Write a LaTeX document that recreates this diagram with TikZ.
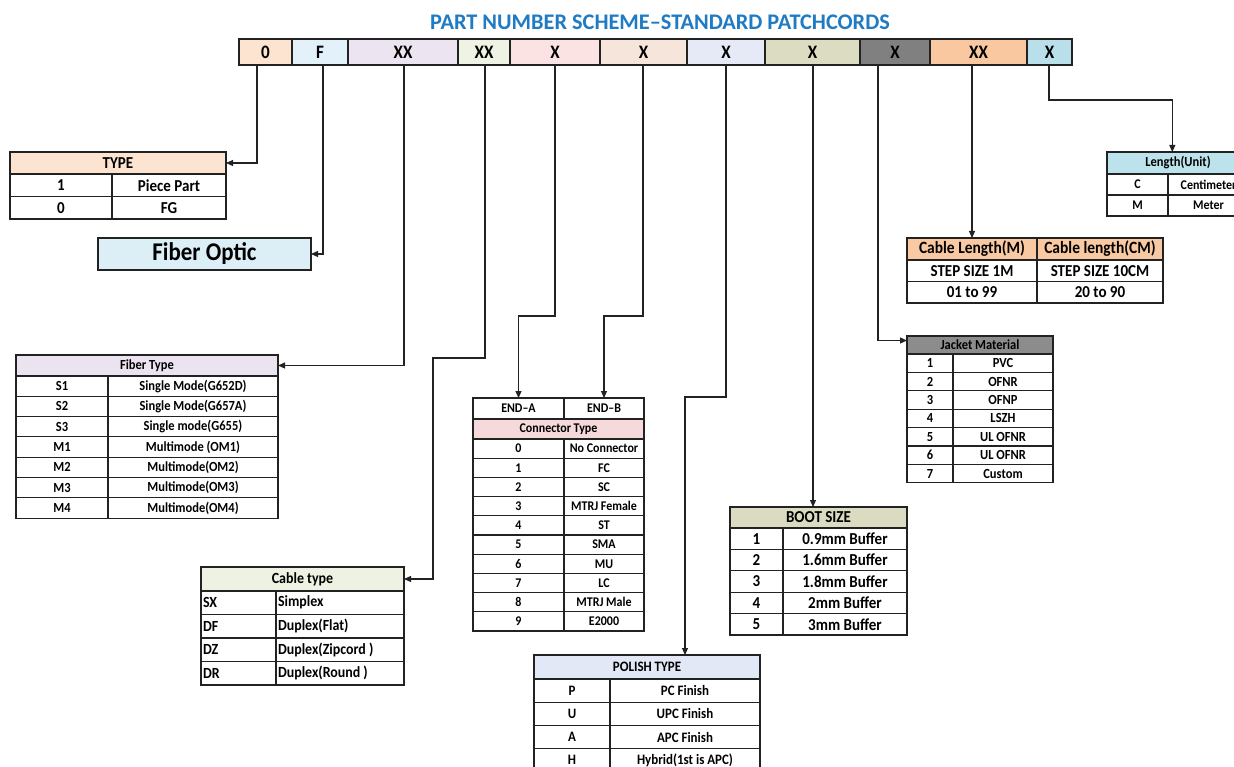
\documentclass[tikz,border=0pt]{standalone}
\usepackage{fontspec}
\setmainfont{Carlito}[FakeStretch=0.9]
\newfontfamily\titlefont{Carlito}
\usetikzlibrary{arrows.meta,calc}
\definecolor{lineC}{HTML}{222222}
\definecolor{titleC}{HTML}{1E7BC4}
\definecolor{cA}{HTML}{FCE4D0}
\definecolor{cB}{HTML}{E3F1FB}
\definecolor{cC}{HTML}{ECE4F0}
\definecolor{cD}{HTML}{EEF3E3}
\definecolor{cE}{HTML}{FBE3E3}
\definecolor{cF}{HTML}{F6E5DA}
\definecolor{cG}{HTML}{E6EAF7}
\definecolor{cH}{HTML}{DCDCC2}
\definecolor{cI}{HTML}{808080}
\definecolor{cJ}{HTML}{F9C8A0}
\definecolor{cK}{HTML}{B9E0EA}
\definecolor{foBlue}{HTML}{DCEEF6}
\definecolor{ftH}{HTML}{EBE3F0}
\definecolor{ctH}{HTML}{EDF2E2}
\definecolor{conH}{HTML}{F6D9DA}
\definecolor{polH}{HTML}{E2E8F6}
\definecolor{bootH}{HTML}{DADBC0}
\definecolor{jackH}{HTML}{8C8C8C}
\definecolor{clH}{HTML}{F8C9A2}
\definecolor{luH}{HTML}{BCE2EC}
\newcommand\fsz[1]{\fontsize{#1}{#1}\selectfont\bfseries}
\tikzset{
  cellbox/.style={draw=lineC, line width=1.1pt, inner sep=0pt, outer sep=0pt, rectangle, text=black},
  conn/.style={draw=lineC, line width=1.1pt, -{Triangle[length=7pt,width=6pt]}},
}
% name, x1, y1, x2, y2, fill, options, text
\newcommand\cell[8]{\node[cellbox, fill=#6, minimum width={#4pt-#2pt}, minimum height={#5pt-#3pt}, #7] (#1) at ({(#2+#4)/2},{(#3+#5)/2}) {#8};}
\newcommand\lcell[8]{\node[cellbox, fill=#6, minimum width={#4pt-#2pt}, minimum height={#5pt-#3pt}, #7] (#1) at ({(#2+#4)/2},{(#3+#5)/2}) {\hbox to \dimexpr #4pt-#2pt\relax{\hskip2pt #8\hfil}};}
% prefix, x1, xm, x2, ytop, rowh, list, options
\newcommand\tablebody[8]{%
  \foreach \a/\b [count=\i] in {#7} {
    \pgfmathsetmacro\yA{#5+(\i-1)*#6}
    \pgfmathsetmacro\yB{#5+\i*#6}
    \cell{#1-\i-a}{#2}{\yA}{#3}{\yB}{white}{#8}{\a}
    \cell{#1-\i-b}{#3}{\yA}{#4}{\yB}{white}{#8}{\b}
  }}
\newcommand\ltablebody[8]{%
  \foreach \a/\b [count=\i] in {#7} {
    \pgfmathsetmacro\yA{#5+(\i-1)*#6}
    \pgfmathsetmacro\yB{#5+\i*#6}
    \lcell{#1-\i-a}{#2}{\yA}{#3}{\yB}{white}{#8}{\a}
    \lcell{#1-\i-b}{#3}{\yA}{#4}{\yB}{white}{#8}{\b}
  }}
\begin{document}
\begin{tikzpicture}[x=1pt,y=-1pt]
\useasboundingbox (0,0) rectangle (1234,767);
\clip (0,0) rectangle (1234,767);
\fill[white] (0,0) rectangle (1234,767);
% title
\node[font=\titlefont\fsz{22.3}, text=titleC] (title) at (660,22) {PART NUMBER SCHEME–STANDARD PATCHCORDS};
% header bar
\foreach \xa/\xb/\t/\c [count=\i] in {239/292/0/cA, 292/348/F/cB, 348/458/XX/cC, 458/510/XX/cD, 510/600/X/cE, 600/687/X/cF, 687/765/X/cG, 765/860/X/cH, 860/930/X/cI, 930/1027/XX/cJ, 1027/1072/X/cK} {
  \cell{h\i}{\xa}{39}{\xb}{65}{\c}{font=\fsz{19}}{\t}
}
% TYPE
\cell{typeh}{10}{152}{226}{174}{cA}{font=\fsz{16.7}}{TYPE}
\tablebody{ty}{10}{112}{226}{174}{22.5}{1/Piece Part,0/FG}{font=\fsz{16.7}}
% Fiber optic
\cell{fo}{98}{238}{311}{270}{foBlue}{font=\fsz{25.5}}{Fiber Optic}
% Fiber type
\cell{fth}{16}{355}{278}{376}{ftH}{font=\fsz{13.9}}{Fiber Type}
\tablebody{ft}{16}{108}{278}{376}{20.3}{S1/Single Mode(G652D),S2/Single Mode(G657A),S3/Single mode(G655),M1/Multimode (OM1),M2/Multimode(OM2),M3/Multimode(OM3),M4/Multimode(OM4)}{font=\fsz{13.9}}
% Cable type
\cell{cth}{201}{567}{404}{591}{ctH}{font=\fsz{15.5}}{Cable type}
\ltablebody{ct}{201}{276}{404}{591}{23.5}{SX/Simplex,DF/Duplex(Flat),DZ/Duplex(Zipcord ),DR/Duplex(Round )}{font=\fsz{15.5}}
% Connector
\cell{endA}{473}{398}{564}{419}{white}{font=\fsz{13.3}}{END–A}
\cell{endB}{564}{398}{644}{419}{white}{font=\fsz{13.3}}{END–B}
\cell{conh}{473}{419}{644}{439}{conH}{font=\fsz{13.3}}{Connector Type}
\tablebody{cn}{473}{564}{644}{439}{19.2}{0/No Connector,1/FC,2/SC,3/MTRJ Female,4/ST,5/SMA,6/MU,7/LC,8/MTRJ Male,9/E2000}{font=\fsz{13.3}}
% Polish
\cell{polh}{534}{655}{760}{679}{polH}{font=\fsz{14.4}}{POLISH TYPE}
\tablebody{pol}{534}{610}{760}{679}{23.2}{P/PC Finish,U/UPC Finish,A/APC Finish,H/Hybrid(1st is APC)}{font=\fsz{14.4}}
% Boot size
\cell{booth}{730}{507}{907}{528}{bootH}{font=\fsz{16.7}}{BOOT SIZE}
\tablebody{bt}{730}{783}{907}{528}{21.4}{1/0.9mm Buffer,2/1.6mm Buffer,3/1.8mm Buffer,4/2mm Buffer,5/3mm Buffer}{font=\fsz{16.7}}
% Jacket
\cell{jackh}{907}{336}{1053}{354}{jackH}{font=\fsz{13.9}}{Jacket Material}
\tablebody{jm}{907}{953}{1053}{354}{18.4}{1/PVC,2/OFNR,3/OFNP,4/LSZH,5/UL OFNR,6/UL OFNR,7/Custom}{font=\fsz{13.9}}
% Cable length
\cell{clha}{907}{238}{1037}{260}{clH}{font=\fsz{17.2}}{Cable Length(M)}
\cell{clhb}{1037}{238}{1163}{260}{clH}{font=\fsz{17.2}}{Cable length(CM)}
\tablebody{cl}{907}{1037}{1163}{260}{21.5}{STEP SIZE 1M/STEP SIZE 10CM,01 to 99/20 to 90}{font=\fsz{16.7}}
% Length unit
\cell{luh}{1107}{152}{1249}{174}{luH}{font=\fsz{13.9}}{Length(Unit)}
\tablebody{lu}{1107}{1168}{1249}{174}{21}{C/Centimeter,M/Meter}{font=\fsz{13.3}}
% connectors
\coordinate (s1) at (257,65);
\coordinate (s2) at (323,65);
\coordinate (s3) at (404,65);
\coordinate (s4) at (485,65);
\coordinate (s5) at (555,65);
\coordinate (s6) at (643,65);
\coordinate (s7) at (726,65);
\coordinate (s8) at (813,65);
\coordinate (s9) at (878,65);
\coordinate (s10) at (972,65);
\coordinate (s11) at (1049,65);
\draw[conn] (s1) |- (typeh.east);
\draw[conn] (s2) |- (fo.east);
\draw[conn] (s3) |- (fth.east);
\draw[conn] (s4) -- ++(0,293) -- ++(-52,0) |- (cth.east);
\draw[conn] (s5) -- ++(0,251) -| (endA.north);
\draw[conn] (s6) -- ++(0,251) -| (endB.north);
\draw[conn] (s7) -- ++(0,332) -| (polh.north -| pol-1-b.north);
\draw[conn] (s8) -- (s8 |- booth.north);
\draw[conn] (s9) |- ($(jackh.north west)!0.25!(jackh.south west)$);
\draw[conn] (s10) -- (clha.north);
\draw[conn] (s11) -- ++(0,35) -| ($(luh.north west)!0.46!(luh.north east)$);
\end{tikzpicture}
\end{document}
